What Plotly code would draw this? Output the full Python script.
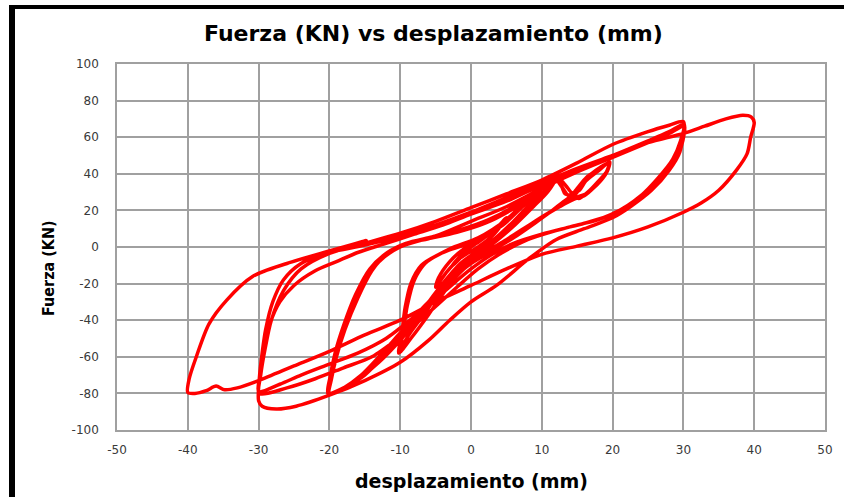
import plotly.graph_objects as go

# ---------------- data ----------------
# small cycles around the origin
c0_x = [0, 1, 2.2, 3, 2.2, 1, 0, -1, -2, -2.8, -2, -0.8, 0]
c0_y = [0, 2.5, 6, 9, 7, 3, 0, -3, -7, -11, -8, -3, 0]
c1_x = [1.5, 3.5, 5, 4.5, 3, 1, -1.5, -3.5, -5, -4.6, -3, -1, 1]
c1_y = [4, 10, 16, 13, 6, 0, -6, -14, -22, -17, -8, -1, 3]

# +/-10 mm cycles
c10_x = [3, 5.5, 8, 10, 11.2,
         11.5, 10.5, 8.5, 6, 3.5, 1, -1.5, -4, -6.5, -8.5, -10,
         -9.6, -9, -8, -6.5, -4, -1, 2, 5, 7.5, 9.5, 11,
         11.8, 10.8, 8.8, 6.2, 3.8, 1.5, -1, -3.5, -6, -8.5, -10.2,
         -9.8, -9.3, -8.5, -7, -4.5, -1.5, 1.5, 4.5, 7, 9.5, 11.5,
         11.6, 10.6, 8.6, 6.1, 3.6, 1.2, -1.2, -3.8, -6.3, -8.6, -10]
c10_y = [8, 16, 26, 33, 37,
         36, 31, 24, 14, 5, -2, -9, -20, -33, -46, -56,
         -47, -32, -18, -9, -3, 1, 6, 14, 23, 31, 36.5,
         36, 30, 22, 12, 4, -3, -11, -23, -37, -50, -58,
         -48, -33, -20, -10, -4, 0.5, 5, 12, 21, 30, 37,
         36.5, 31, 23, 13, 4.5, -2.5, -10, -21, -35, -47, -55]

# +/-20 mm cycles (with slip near +12..+16 mm)
c20_x = [-9.5, -8.5, -6.5, -3, 1, 5, 8, 10.5, 12, 12.8, 13.3, 14.2, 15, 16.3, 18, 19.5,
         19.3, 18, 16.5, 15.2, 14.5, 13.5, 11.5, 9, 6, 3, 0, -3, -6, -9, -12, -15, -17.5, -20,
         -19.7, -19, -17.8, -16, -14, -12, -9.5, -6, -2, 2, 6, 9, 11, 12.2, 13, 13.8, 14.8, 15.6, 17, 19.5,
         19, 17.5, 16, 14.5, 12, 9, 5, 2, -1, -4, -7, -10, -13, -15.5, -18, -20.2,
         -19.9, -19.2, -18, -16.3, -14.3, -11.8, -9.2, -5.5, -1.5, 2.5, 6.5, 9.5, 11.5, 12.5, 13.4, 14.3, 15.3, 16.2, 17.8, 19.6,
         19.2, 17.8, 16.2, 14.8, 12.5, 9.5, 6, 3, 0, -3, -6.5, -10, -13, -15.5, -18, -20]
c20_y = [-40, -22, -9, -1, 5, 15, 26, 34, 36.5, 33, 29, 28.5, 32, 38, 42.5, 46,
         42, 36, 30, 26.5, 28, 26, 20, 13, 5, -2, -9, -18, -30, -44, -58, -70, -76, -80,
         -72, -60, -45, -28, -13, -4, 1.5, 4.5, 8, 13, 21, 29, 35, 36.5, 32, 28, 29, 34, 40, 46,
         40, 33, 28, 26, 21, 14, 4, -3, -12, -24, -37, -51, -63, -71, -77, -80,
         -71, -58, -43, -26, -12, -3, 2, 5.5, 9.5, 15, 23, 31, 36, 37, 33.5, 29.5, 31, 36, 41, 46.5,
         41, 34, 29, 27, 22, 15, 6, -1, -8, -19, -32, -47, -60, -70, -77, -80.5]

# +/-30 mm cycles
c30_x = [-19.6, -18.8, -17.5, -15.5, -13, -10, -5, 0, 5, 10, 15, 20, 25, 28, 30,
         29.6, 28.5, 26.5, 24, 21, 18, 14, 10, 6, 3, 0, -4, -8, -12, -16, -20, -24, -27, -30,
         -29.8, -29.2, -28.4, -27, -25, -22, -19, -16, -12, -8, -4, 0, 5, 10, 20, 25, 28, 30.1,
         29.7, 28.2, 26, 23, 20, 16, 12, 8, 4, 1, -2, -6, -10, -14, -18, -22, -26, -29.9,
         -29.7, -29.1, -28.2, -26.5, -24, -20, -15, -10, -5, 0, 5, 10, 15, 20, 25, 28, 30,
         29.5, 28, 25.5, 22.5, 20, 16, 12, 8.3, 3.6, 0, -3, -6, -10, -15, -20, -24.7, -27.5, -29.5, -30]
c30_y = [-68, -55, -40, -22, -8, 0, 6, 14, 22, 32, 41, 49, 57, 62, 66,
         58, 48, 38, 28, 20, 15, 11, 7, 2, -4, -12, -25, -38, -50, -58, -64, -70, -75, -79,
         -70, -55, -42, -30, -21, -13, -8, -3, 2, 7, 12, 18, 25, 34, 50, 58, 63, 67,
         55, 45, 35, 25, 18, 13, 9, 4, -4, -12, -22, -36, -49, -60, -66, -72, -77, -80,
         -70, -56, -40, -24, -12, -3.5, 2, 7.5, 14, 21.5, 29, 36.6, 46, 56, 63, 66.5, 68.5,
         52, 42, 31, 22, 16, 10, 4, -6, -21, -30, -40, -51, -63, -73, -81, -87, -88.5, -87, -84]

# +/-40 mm cycle and final reloading branch
c40_x = [-29.9, -29.5, -29, -28, -26.5, -24, -20, -15, -10, -5, 0, 5, 10, 15, 20, 25, 30, 33, 36, 38.4, 39.6, 40,
         39.5, 39, 37.5, 35, 32.5, 30, 25, 20, 15, 10, 5, 0, -5, -10, -15, -20, -25, -30, -33, -34.8, -36, -37.4, -39, -40,
         -39.8, -38.8, -37, -34.5, -30.8, -26, -20.4, -17.1, -15.3, -14.8, -14.9]
c40_y = [-72, -58, -45, -30, -18, -9, -3, 1, 6, 12, 19, 27, 35, 43, 50, 57, 62, 66, 70, 72, 71, 68,
         60, 51, 42, 31, 24, 19, 11, 5, 0.5, -4, -12, -21, -30, -40, -48, -57, -65, -73, -77, -78, -76, -78.5, -80, -79.5,
         -72, -60, -42, -29, -16, -9, -2.6, 1, 3, 3.5, 1.2]

disp = [0] + c0_x + c1_x + c10_x + c20_x + c30_x + c40_x
force = [0] + c0_y + c1_y + c10_y + c20_y + c30_y + c40_y

x_ticks = [-50, -40, -30, -20, -10, 0, 10, 20, 30, 40, 50]
y_ticks = [-100, -80, -60, -40, -20, 0, 20, 40, 60, 80, 100]

title_text = "Fuerza (KN) vs desplazamiento (mm)"
x_title = "desplazamiento (mm)"
y_title = "Fuerza (KN)"

# ---------------- figure ----------------
W, H = 844, 497
L, R, T, B = 117, 19, 64, 67
pw, ph = W - L - R, H - T - B

def px(xp):
    return (xp - L) / pw

def py(yp):
    return (H - B - yp) / ph

fig = go.Figure()
fig.add_trace(go.Scatter(x=disp, y=force, mode="lines",
                         line=dict(color="#ff0000", width=3.5, shape="spline", smoothing=0.8),
                         hoverinfo="skip", showlegend=False))

grid = "#a0a0a0"
tickfont = dict(family="DejaVu Sans", size=12, color="#3a3a3a")
fig.update_xaxes(range=[-50, 50], tickvals=x_ticks, ticktext=[str(v) for v in x_ticks],
                 showgrid=True, gridcolor=grid, gridwidth=1.5, zeroline=False,
                 showline=True, linecolor=grid, linewidth=1.5, mirror=True,
                 tickfont=tickfont, ticks="", ticklabelstandoff=8)
fig.update_yaxes(range=[-100, 100], tickvals=y_ticks, ticktext=[str(v) for v in y_ticks],
                 showgrid=True, gridcolor=grid, gridwidth=1.5, zeroline=False,
                 showline=True, linecolor=grid, linewidth=1.5, mirror=True,
                 tickfont=tickfont, ticks="", ticklabelstandoff=14)

annots = [
    dict(text="<b>%s</b>" % title_text, x=px(433), y=py(33), xref="paper", yref="paper",
         showarrow=False, xanchor="center", yanchor="middle",
         font=dict(family="DejaVu Sans", size=22, color="#000000")),
    dict(text="<b>%s</b>" % x_title, x=px(471), y=py(481), xref="paper", yref="paper",
         showarrow=False, xanchor="center", yanchor="middle",
         font=dict(family="DejaVu Sans", size=19, color="#000000")),
    dict(text="<b>%s</b>" % y_title, x=px(48), y=py(268), xref="paper", yref="paper",
         showarrow=False, xanchor="center", yanchor="middle", textangle=-90,
         font=dict(family="Liberation Sans Narrow, DejaVu Sans Condensed, Liberation Sans",
                   size=16, color="#000000")),
]

shapes = [
    dict(type="rect", xref="paper", yref="paper", x0=px(9), x1=px(W + 5), y0=py(9), y1=py(5),
         fillcolor="#000000", line=dict(width=0), layer="above"),
    dict(type="rect", xref="paper", yref="paper", x0=px(9), x1=px(15), y0=py(H + 5), y1=py(5),
         fillcolor="#000000", line=dict(width=0), layer="above"),
]

fig.update_layout(width=W, height=H, margin=dict(l=L, r=R, t=T, b=B, autoexpand=False),
                  paper_bgcolor="#ffffff", plot_bgcolor="#ffffff",
                  annotations=annots, shapes=shapes, showlegend=False)

fig.write_html("out.html")
